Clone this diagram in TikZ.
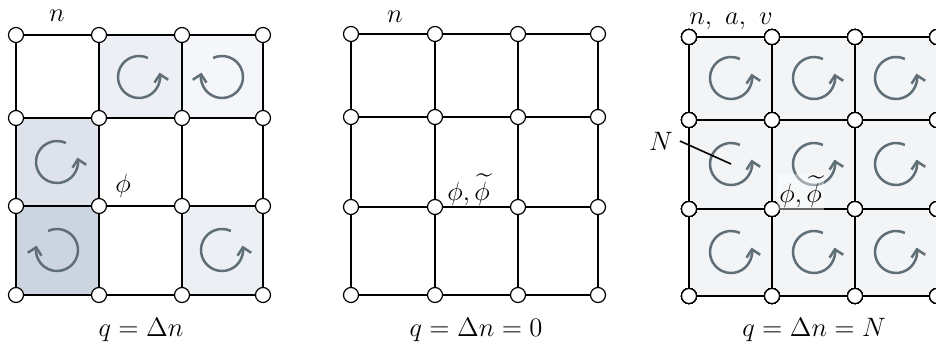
\RequirePackage{fix-cm}
\documentclass[tikz,border=0pt]{standalone}
\usepackage{amsmath}
\usetikzlibrary{arrows.meta}

\definecolor{swirl}{HTML}{5F6E77}
\definecolor{shadeA}{HTML}{CCD4E0}
\definecolor{shadeB}{HTML}{DEE3EB}
\definecolor{shadeC}{HTML}{ECEFF4}
\definecolor{shadeD}{HTML}{F5F6F9}
\definecolor{shadeE}{HTML}{F3F4F6}

\tikzset{
  site/.style={circle, draw, fill=white, line width=0.6pt, inner sep=0pt, minimum size=7.5pt},
  bond/.style={line width=1pt},
  vortex/.style={draw=swirl, line width=1.25pt, -{Straight Barb[length=3.5pt, width=7pt]}},
  every node/.style={font=\fontsize{13.3pt}{16pt}\selectfont}
}

% counterclockwise / clockwise circulation in a cell centred at (#1,#2)
\newcommand{\ccwvortex}[2]{\draw[vortex] (#1,#2) ++(-65:21) arc[start angle=-65, end angle=-372, radius=21];}
\newcommand{\cwvortex}[2]{\draw[vortex] (#1,#2) ++(-115:21) arc[start angle=-115, end angle=192, radius=21];}

\begin{document}
\begin{tikzpicture}[x=0.5pt, y=-0.5pt]
\useasboundingbox (0,0) rectangle (936,347);

% left lattice: shaded plaquettes
\fill[shadeC] (99,35) rectangle (182,118);
\fill[shadeD] (182,35) rectangle (263,118);
\fill[shadeB] (16,118) rectangle (99,206);
\fill[shadeA] (16,206) rectangle (99,295);
\fill[shadeC] (182,206) rectangle (263,295);
\ccwvortex{139}{77}
\cwvortex{222}{77}
\ccwvortex{57}{162}
\cwvortex{57}{250}
\ccwvortex{222}{250}

% left lattice sites
\foreach \i/\y in {0/35,1/118,2/206,3/295}
  \foreach \j/\x in {0/16,1/99,2/182,3/263}
    \node[site] (L\i\j) at (\x,\y) {};
\foreach \i in {0,...,3}
  \foreach \j/\k in {0/1,1/2,2/3} {
    \draw[bond] (L\i\j) -- (L\i\k);
    \draw[bond] (L\j\i) -- (L\k\i);
  }

% middle lattice sites
\foreach \i/\y in {0/34,1/117,2/207,3/295}
  \foreach \j/\x in {0/351,1/435,2/518,3/598}
    \node[site] (M\i\j) at (\x,\y) {};
\foreach \i in {0,...,3}
  \foreach \j/\k in {0/1,1/2,2/3} {
    \draw[bond] (M\i\j) -- (M\i\k);
    \draw[bond] (M\j\i) -- (M\k\i);
  }

% right lattice: every plaquette carries a vortex
\fill[shadeE] (689,37) rectangle (937,296);
\foreach \y in {78,164,252}
  \foreach \x in {731,814,896}
    \ccwvortex{\x}{\y}
\foreach \i/\y in {0/37,1/120,2/209,3/296}
  \foreach \j/\x in {0/689,1/772,2/855,3/937}
    \node[site] (R\i\j) at (\x,\y) {};
\foreach \i in {0,...,3}
  \foreach \j/\k in {0/1,1/2,2/3} {
    \draw[bond] (R\i\j) -- (R\i\k);
    \draw[bond] (R\j\i) -- (R\k\i);
  }

% field labels
\node[anchor=base] (nL) at (57,22) {$n$};
\node[anchor=base] (nM) at (395,23) {$n$};
\node[anchor=base] (nR) at (731,25) {$n,\ a,\ v$};
\node[anchor=base west, inner sep=0pt] (phiL) at (115,193) {$\phi$};
\node[anchor=base west, inner sep=0pt] (phiM) at (447,201) {$\phi,\widetilde{\phi}$};
\node[anchor=base west, inner sep=1pt, fill=white, fill opacity=0.4, text opacity=1] (phiR) at (777,203) {$\phi,\widetilde{\phi}$};

% vortex number
\node (N) at (661,141) {$N$};
\coordinate (Nend) at (731,164);
\draw[line width=0.8pt] (N.east) -- (Nend);

% charges
\node[anchor=base] (qL) at (141,336) {$q=\Delta n$};
\node[anchor=base] (qM) at (476,336) {$q=\Delta n=0$};
\node[anchor=base] (qR) at (814,336) {$q=\Delta n=N$};

\end{tikzpicture}
\end{document}
